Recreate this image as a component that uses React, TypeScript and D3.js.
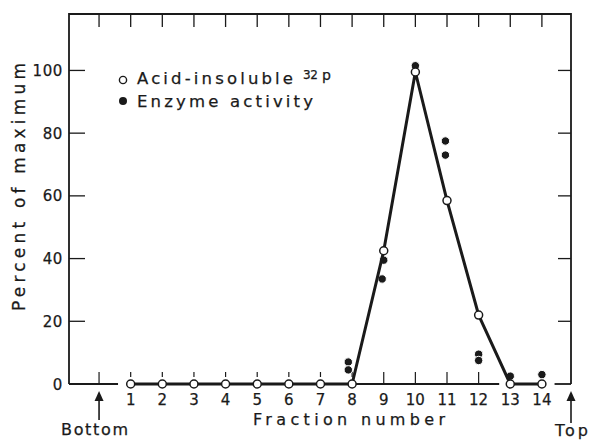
import React from "react";
import * as d3 from "d3";

// ---- data ----
const fractions = [1, 2, 3, 4, 5, 6, 7, 8, 9, 10, 11, 12, 13, 14];
const acidInsolubleP32 = [0, 0, 0, 0, 0, 0, 0, 0, 42.5, 99.5, 58.5, 22, 0, 0];
const enzymeFraction = [7.88, 7.88, 9, 8.95, 10, 10.95, 10.95, 12, 12, 13, 14];
const enzymeActivity = [7, 4.5, 39.5, 33.5, 101.5, 77.5, 73, 9.5, 7.5, 2.5, 3];
const yTicks = [0, 20, 40, 60, 80, 100];
const frameTicks = [0, 1, 2, 3, 4, 5, 6, 7, 8, 9, 10, 11, 12, 13, 14];

const W = 593;
const H = 441;
const FONT = "'DejaVu Sans', Lato, sans-serif";
const INK = "#1a1a1a";

export default function App() {
  const x = d3.scaleLinear().domain([-0.95, 14.92]).range([69, 571]);
  const y = d3.scaleLinear().domain([0, 118]).range([384, 14]);
  const x0 = x.range()[0];
  const x1 = x.range()[1];
  const yTop = y.range()[1];
  const yBase = y(0);

  const pts = fractions.map((f, i) => [f, acidInsolubleP32[i]] as [number, number]);
  const line = d3
    .line<[number, number]>()
    .x((d) => x(d[0]))
    .y((d) => y(d[1]));

  const enz = enzymeFraction.map((f, i) => [f, enzymeActivity[i]] as [number, number]);

  // bottom axis visible pieces (hidden under data line elsewhere)
  const axisPieces: [number, number][] = [
    [-0.95, 0.6],
    [8, 12.65],
    [14.4, 14.92],
  ];

  const zeroAt = new Set(fractions.filter((f, i) => acidInsolubleP32[i] === 0));
  const textProps = { fill: INK, fontWeight: 400, stroke: INK, strokeWidth: 0.25 } as const;

  return (
    <svg
      width={W}
      height={H}
      style={{ position: "absolute", left: 0, top: 0, background: "#fff" }}
      fontFamily={FONT}
    >
      <rect width={W} height={H} fill="#fff" />
      {/* frame: left, top, right */}
      <path
        d={`M${x0},${yBase}V${yTop}H${x1}V${yBase}`}
        fill="none"
        stroke={INK}
        strokeWidth={1.8}
      />
      {/* bottom axis pieces */}
      {axisPieces.map((p, i) => (
        <line
          key={"ax" + i}
          x1={x(p[0])}
          x2={x(p[1])}
          y1={yBase}
          y2={yBase}
          stroke={INK}
          strokeWidth={1.8}
        />
      ))}
      {/* top ticks */}
      {frameTicks.map((f) => (
        <line key={"tt" + f} x1={x(f)} x2={x(f)} y1={yTop} y2={yTop + 13} stroke={INK} strokeWidth={1.3} />
      ))}
      {/* bottom ticks */}
      {frameTicks.map((f) => (
        <line
          key={"bt" + f}
          x1={x(f)}
          x2={x(f)}
          y1={yBase - 12}
          y2={zeroAt.has(f) ? yBase - 7 : yBase}
          stroke={INK}
          strokeWidth={1.2}
        />
      ))}
      {/* y ticks left & right */}
      {yTicks
        .filter((t) => t > 0)
        .map((t) => (
          <g key={"yt" + t}>
            <line x1={x0} x2={x0 + 16} y1={y(t)} y2={y(t)} stroke={INK} strokeWidth={1.3} />
            <line x1={x1 - 13} x2={x1} y1={y(t)} y2={y(t)} stroke={INK} strokeWidth={1.3} />
          </g>
        ))}
      {/* y tick labels */}
      {yTicks.map((t) => (
        <text
          key={"yl" + t}
          x={63}
          y={y(t) + 5.5}
          textAnchor="end"
          fontSize={15}
          letterSpacing={0.6}
          {...textProps}
        >
          {t}
        </text>
      ))}
      {/* x tick labels */}
      {fractions.map((f) => (
        <text key={"xl" + f} x={x(f)} y={405} textAnchor="middle" fontSize={15} {...textProps}>
          {f}
        </text>
      ))}
      {/* axis titles */}
      <text x={253} y={425} fontSize={16} textLength={192} lengthAdjust="spacing" {...textProps}>
        Fraction number
      </text>
      <text
        transform={`translate(25,${187}) rotate(-90)`}
        textAnchor="middle"
        fontSize={17}
        textLength={248}
        lengthAdjust="spacing"
        {...textProps}
      >
        Percent of maximum
      </text>
      {/* Bottom / Top arrows */}
      {[
        { f: 0, label: "Bottom", lx: 61, ly: 435, lw: 67, y2: 420 },
        { f: 14.92, label: "Top", lx: 555, ly: 436, lw: 33, y2: 423 },
      ].map((a) => (
        <g key={a.label}>
          <line x1={x(a.f)} x2={x(a.f)} y1={395} y2={a.y2} stroke={INK} strokeWidth={1.6} />
          <path d={`M${x(a.f)},${391}L${x(a.f) - 4.5},${401}L${x(a.f) + 4.5},${401}Z`} fill={INK} />
          <text x={a.lx} y={a.ly} fontSize={16} textLength={a.lw} lengthAdjust="spacing" {...textProps}>
            {a.label}
          </text>
        </g>
      ))}
      {/* enzyme activity dots (under) */}
      {enz.map((d, i) => (
        <circle key={"e" + i} cx={x(d[0])} cy={y(d[1])} r={4.2} fill={INK} stroke="#fff" strokeWidth={1} />
      ))}
      {/* acid-insoluble line */}
      <path d={line(pts) || ""} fill="none" stroke={INK} strokeWidth={3} strokeLinejoin="round" />
      {pts.map((d, i) => (
        <circle key={"o" + i} cx={x(d[0])} cy={y(d[1])} r={4} fill="#fff" stroke={INK} strokeWidth={1.5} />
      ))}
      {/* legend */}
      <circle cx={123} cy={80} r={3.6} fill="#fff" stroke={INK} strokeWidth={1.4} />
      <text x={137} y={84} fontSize={16.5} textLength={156} lengthAdjust="spacing" {...textProps}>
        Acid-insoluble
      </text>
      <text x={303} y={79} fontSize={12} textLength={15} lengthAdjust="spacing" {...textProps}>
        32
      </text>
      <text x={322} y={80} fontSize={14} {...textProps}>
        p
      </text>
      <circle cx={123} cy={101} r={4} fill={INK} />
      <text x={137} y={107} fontSize={16.5} textLength={176} lengthAdjust="spacing" {...textProps}>
        Enzyme activity
      </text>
    </svg>
  );
}
